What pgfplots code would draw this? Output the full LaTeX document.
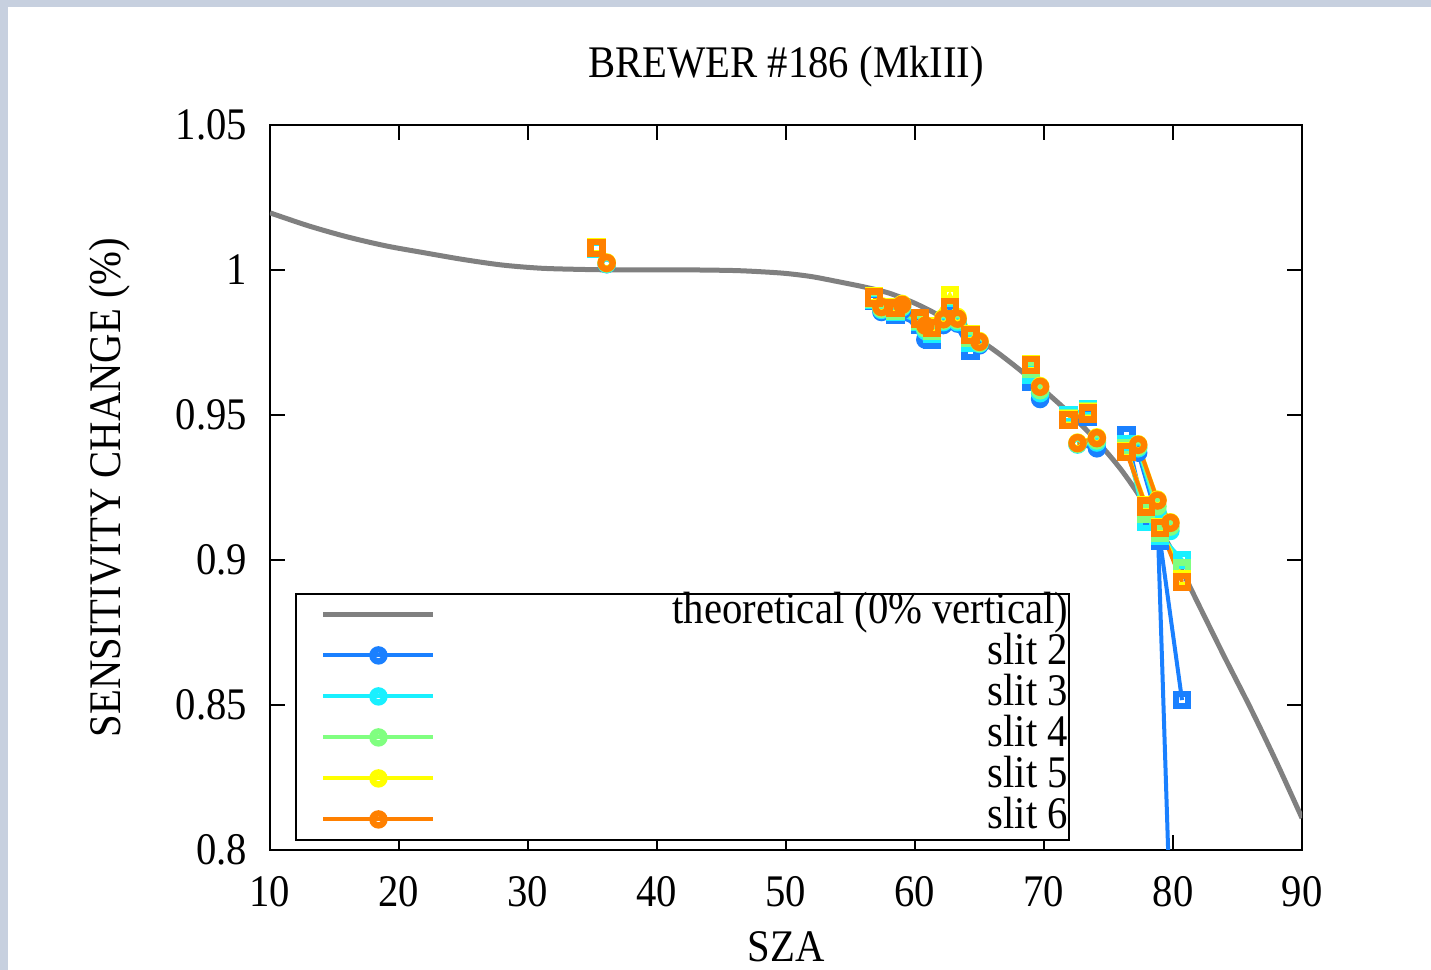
\documentclass[border=0pt]{standalone}
\usepackage{fontspec}
\setmainfont{Liberation Serif}[FakeStretch=0.9]
\usepackage{pgfplots}
\pgfplotsset{compat=1.18}
\usetikzlibrary{backgrounds}

\definecolor{rim}{HTML}{C7D0DF}
\definecolor{sl2}{HTML}{1A80FF}
\definecolor{sl3}{HTML}{19F0FF}
\definecolor{sl4}{HTML}{80FF80}
\definecolor{sl5}{HTML}{FFFF00}
\definecolor{sl6}{HTML}{FF8000}
\definecolor{theo}{HTML}{808080}

% AM (squares) and PM (circles) per slit; nan breaks the line between sessions
\pgfplotstableread{
x y
35.3 1.0072
nan nan
56.8 0.9895
58.5 0.9845
60.4 0.9810
61.3 0.9760
62.7 0.9850
64.3 0.9720
nan nan
69.0 0.9615
nan nan
71.9 0.9490
73.4 0.9495
nan nan
76.4 0.9430
77.9 0.9140
79.0 0.9065
80.7 0.8517
}\slittwoam
\pgfplotstableread{
x y
36.1 1.0020
nan nan
57.4 0.9855
59.0 0.9860
60.8 0.9760
62.2 0.9810
63.3 0.9815
65.0 0.9740
nan nan
69.7 0.9555
nan nan
72.6 0.9400
74.1 0.9385
nan nan
77.3 0.9370
78.8 0.9140
80.2 0.7200
}\slittwopm
\pgfplotstableread{
x y
35.3 1.0074
nan nan
56.8 0.9898
58.5 0.9855
60.4 0.9820
61.3 0.9780
62.7 0.9862
64.3 0.9750
nan nan
69.0 0.9640
nan nan
71.9 0.9500
73.4 0.9520
nan nan
76.4 0.9400
77.9 0.9130
79.0 0.9085
80.7 0.9000
}\slitthreeam
\pgfplotstableread{
x y
36.1 1.0020
nan nan
57.4 0.9862
59.0 0.9870
60.8 0.9790
62.2 0.9820
63.3 0.9820
65.0 0.9745
nan nan
69.7 0.9575
nan nan
72.6 0.9398
74.1 0.9405
nan nan
77.3 0.9385
78.8 0.9165
79.8 0.9100
}\slitthreepm
\pgfplotstableread{
x y
35.3 1.0075
nan nan
56.8 0.9900
58.5 0.9860
60.4 0.9825
61.3 0.9790
62.7 0.9868
64.3 0.9765
nan nan
69.0 0.9660
nan nan
71.9 0.9490
73.4 0.9512
nan nan
76.4 0.9385
77.9 0.9160
79.0 0.9095
80.7 0.8970
}\slitfouram
\pgfplotstableread{
x y
36.1 1.0022
nan nan
57.4 0.9866
59.0 0.9875
60.8 0.9798
62.2 0.9825
63.3 0.9826
65.0 0.9748
nan nan
69.7 0.9585
nan nan
72.6 0.9400
74.1 0.9412
nan nan
77.3 0.9390
78.8 0.9185
79.8 0.9115
}\slitfourpm
\pgfplotstableread{
x y
35.3 1.0080
nan nan
56.8 0.9908
58.5 0.9870
60.4 0.9835
61.3 0.9805
62.7 0.9914
64.3 0.9780
nan nan
69.0 0.9675
nan nan
71.9 0.9487
73.4 0.9508
nan nan
76.4 0.9376
77.9 0.9190
79.0 0.9112
80.7 0.8935
}\slitfiveam
\pgfplotstableread{
x y
36.1 1.0026
nan nan
57.4 0.9875
59.0 0.9883
60.8 0.9810
62.2 0.9835
63.3 0.9838
65.0 0.9755
nan nan
69.7 0.9600
nan nan
72.6 0.9405
74.1 0.9423
nan nan
77.3 0.9399
78.8 0.9208
79.8 0.9130
}\slitfivepm
\pgfplotstableread{
x y
35.3 1.0076
nan nan
56.8 0.9905
58.5 0.9868
60.4 0.9832
61.3 0.9800
62.7 0.9872
64.3 0.9776
nan nan
69.0 0.9672
nan nan
71.9 0.9483
73.4 0.9505
nan nan
76.4 0.9372
77.9 0.9185
79.0 0.9110
80.7 0.8924
}\slitsixam
\pgfplotstableread{
x y
36.1 1.0024
nan nan
57.4 0.9872
59.0 0.9880
60.8 0.9808
62.2 0.9830
63.3 0.9832
65.0 0.9752
nan nan
69.7 0.9597
nan nan
72.6 0.9403
74.1 0.9420
nan nan
77.3 0.9397
78.8 0.9205
79.8 0.9128
}\slitsixpm

\pgfplotsset{
  am/.style={line width=1pt, mark=square, mark size=1.5pt,
    mark options={line width=1.6pt, solid}, forget plot},
  pm/.style={line width=1pt, mark=o, mark size=1.5pt,
    mark options={line width=1.6pt, solid}},
}
\newcommand{\lent}[1]{\makebox[152pt][r]{#1\hspace*{-6pt}}}

\begin{document}
\fontsize{11.3}{13.5}\selectfont
\begin{tikzpicture}
\begin{axis}[
  scale only axis,
  width=258pt, height=181.25pt,
  xmin=10, xmax=90, ymin=0.8, ymax=1.05,
  xtick={10,20,30,40,50,60,70,80,90},
  ytick={0.8,0.85,0.9,0.95,1,1.05},
  tick align=inside,
  xtick pos=both, ytick pos=both,
  major tick length=3.75pt,
  minor tick num=0,
  axis line style={line width=0.6pt},
  tick style={line width=0.6pt, black},
  /pgf/number format/assume math mode=true,
  xticklabel style={yshift=-2.6pt},
  yticklabel style={xshift=-1.75pt},
  title={BREWER \#186 (MkIII)},
  title style={yshift=-0.5pt},
  xlabel={SZA},
  xlabel style={yshift=1.6pt},
  ylabel={SENSITIVITY CHANGE (\%)},
  ylabel style={at={(axis description cs:-0.155,0.5)}, anchor=center},
  unbounded coords=jump,
  legend style={at={(0.0242,0.0125)}, anchor=south west,
    draw=black, line width=0.5pt, inner xsep=6.25pt, inner ysep=0pt,
    row sep=0pt,
    nodes={inner sep=0pt, text height=7.5pt, text depth=2.75pt}},
  legend image code/.code={
    \draw[mark repeat=2, mark phase=2]
      plot coordinates {(0pt,0pt) (13.75pt,0pt) (27.5pt,0pt)};
  },
]
\coordinate (bl) at (axis description cs:-0.2616,-0.1655);
\coordinate (tr) at (axis description cs:1.1250,1.1724);

\addplot[theo, line width=1.25pt, smooth, no marks] coordinates {
  (10,1.0197) (13,1.0152) (16,1.0114) (19,1.0083) (22,1.0059) (25,1.0036)
  (28,1.0017) (31,1.0006) (34,1.0002) (37,1.0000) (40,1.0000) (43,1.0000)
  (46,0.9998) (48,0.9994) (50,0.9988) (52,0.9977) (54,0.9960) (56,0.9942)
  (58,0.9920) (60,0.9885) (62,0.9840) (64,0.9786) (66,0.9728) (68,0.9660)
  (70,0.9585) (72,0.9505) (74,0.9415) (76,0.9310) (78,0.9180) (80,0.9025)
  (82,0.8845) (84,0.8665) (86,0.8490) (88,0.8305) (90,0.8110)
};
\addlegendentry{\lent{theoretical (0\% vertical)}}

\addplot[sl2, am] table {\slittwoam};
\addplot[sl2, pm] table {\slittwopm};
\addlegendentry{\lent{slit 2}}
\addplot[sl3, am] table {\slitthreeam};
\addplot[sl3, pm] table {\slitthreepm};
\addlegendentry{\lent{slit 3}}
\addplot[sl4, am] table {\slitfouram};
\addplot[sl4, pm] table {\slitfourpm};
\addlegendentry{\lent{slit 4}}
\addplot[sl5, am] table {\slitfiveam};
\addplot[sl5, pm] table {\slitfivepm};
\addlegendentry{\lent{slit 5}}
\addplot[sl6, am] table {\slitsixam};
\addplot[sl6, pm] table {\slitsixpm};
\addlegendentry{\lent{slit 6}}
\end{axis}
\pgfresetboundingbox
\path (bl) rectangle (tr);
\begin{scope}[on background layer]
  \fill[rim] (bl) rectangle (tr);
  \fill[white] ([xshift=2pt]bl) rectangle ([yshift=-1.8pt]tr);
\end{scope}
\end{tikzpicture}
\end{document}
